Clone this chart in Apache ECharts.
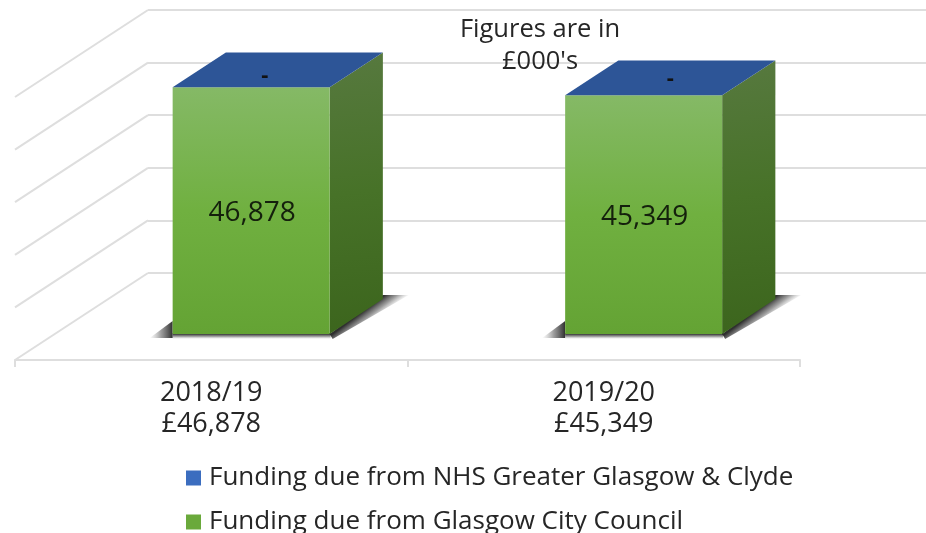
<!DOCTYPE html>
<html>
<head>
<meta charset="utf-8">
<style>html,body{margin:0;padding:0;background:#fff}#chart{width:926px;height:533px}</style>
<script src="https://cdn.jsdelivr.net/npm/echarts@6/dist/echarts.min.js"></script>
</head>
<body>
<div id="chart"></div>
<script>
// Funding due to the partnership, figures in £000's
const years = ['2018/19', '2019/20'];
const nhsFunding = [0, 0];
const councilFunding = [46878, 45349];
const wallTicks = [0, 10000, 20000, 30000, 40000, 50000];
const nhsName = 'Funding due from NHS Greater Glasgow & Clyde';
const councilName = 'Funding due from Glasgow City Council';
const note = "Figures are in\n£000's";

// Oblique projection: how far a point moves on screen from floor front to back wall
const DEPTH_X = 133, DEPTH_Y = -87;
const BAR_FRONT = 0.30, BAR_BACK = 0.70, BAR_WIDTH = 0.40;
const FONT = '"Open Sans", sans-serif';
const INK = '#262626';
const GRID_LINE = '#dedede';
const DASH_NUDGE = [[-13, 6], [0, 1]];

const fmt = v => v.toLocaleString('en-GB');
const total = i => nhsFunding[i] + councilFunding[i];
const axisLabels = years.map((y, i) => y + '\n£' + fmt(total(i)));

function project(p, depth) {
  return [p[0] + DEPTH_X * depth, p[1] + DEPTH_Y * depth];
}

function barBox(api, i, value) {
  const half = api.size([1, 0])[0] * BAR_WIDTH / 2;
  const base = api.coord([i, 0]);
  const top = api.coord([i, value]);
  return {
    fb: [project([base[0] - half, base[1]], BAR_FRONT), project([base[0] + half, base[1]], BAR_FRONT)],
    ft: [project([base[0] - half, top[1]], BAR_FRONT), project([base[0] + half, top[1]], BAR_FRONT)],
    bb: [project([base[0] - half, base[1]], BAR_BACK), project([base[0] + half, base[1]], BAR_BACK)],
    bt: [project([base[0] - half, top[1]], BAR_BACK), project([base[0] + half, top[1]], BAR_BACK)]
  };
}

const linear = (x, y, x2, y2, stops) => ({
  type: 'linear', x, y, x2, y2,
  colorStops: stops.map(([offset, color]) => ({ offset, color }))
});
const screenLinear = (x, y, x2, y2, stops) => Object.assign(linear(x, y, x2, y2, stops), { global: true });
const SHADE = [[0, 'rgba(30,30,30,0.92)'], [0.5, 'rgba(60,60,60,0.5)'], [1, 'rgba(120,120,120,0)']];

function renderWall(params, api) {
  const y = api.coord([0, api.value(0)])[1];
  const a = [params.coordSys.x, y];
  const b = project(a, 1);
  return {
    type: 'line', silent: true,
    shape: { x1: a[0], y1: a[1], x2: b[0], y2: b[1] },
    style: { stroke: GRID_LINE, lineWidth: 2 }
  };
}

function renderCouncil(params, api) {
  const i = api.value(0), v = api.value(1);
  const b = barBox(api, i, v);
  const [fl, fr] = b.fb;
  const br = b.bb[1];
  const cx = (fl[0] + fr[0]) / 2;
  const cy = (fl[1] + b.ft[0][1]) / 2;
  const mid = [(fr[0] + br[0]) / 2, (fr[1] + br[1]) / 2];
  return {
    type: 'group',
    children: [
      { // shadow falling to the left of the front edge
        type: 'polygon', silent: true,
        shape: { points: [[fl[0] - 23, fl[1] + 4], [fl[0], fl[1] - 13], [fl[0], fl[1] + 4]] },
        style: { fill: screenLinear(fl[0], 0, fl[0] - 23, 0, SHADE) }
      },
      { // shadow under the front edge
        type: 'polygon', silent: true,
        shape: { points: [[fl[0], fl[1] - 1], [fr[0] + 1, fr[1] - 1], [fr[0] + 1, fr[1] + 5], [fl[0], fl[1] + 5]] },
        style: { fill: screenLinear(0, fl[1], 0, fl[1] + 5, SHADE) }
      },
      { // shadow falling to the right of the side face
        type: 'polygon', silent: true,
        shape: { points: [[fr[0], fr[1]], [br[0], br[1] - 4], [br[0] + 26, br[1] - 4], [fr[0] + 3, fr[1] + 5]] },
        style: { fill: screenLinear(mid[0], mid[1], mid[0] + 9, mid[1] + 12, SHADE) }
      },
      { // side face
        type: 'polygon', silent: true,
        shape: { points: [b.ft[1], b.bt[1], b.bb[1], b.fb[1]] },
        style: { fill: linear(0, 0, 0.6, 1, [[0, '#57793f'], [0.5, '#477228'], [1, '#3c651d']]) }
      },
      { // front face
        type: 'polygon', silent: true,
        shape: { points: [b.ft[0], b.ft[1], b.fb[1], b.fb[0]] },
        style: { fill: linear(0, 0, 0, 1, [[0, '#85b966'], [0.5, '#70b040'], [1, '#64a334']]) }
      },
      {
        type: 'text', silent: true,
        style: {
          x: cx + 1, y: cy + 2, text: fmt(v), fill: '#14200c',
          font: '28px ' + FONT, align: 'center', verticalAlign: 'middle'
        }
      }
    ]
  };
}

// The NHS share is nil, so its segment shows only as the lid of the column
function renderNhs(params, api) {
  const i = api.value(0), v = api.value(1);
  const b = barBox(api, i, v + councilFunding[i]);
  const cx = (b.ft[0][0] + b.bt[1][0]) / 2;
  const cy = (b.ft[0][1] + b.bt[0][1]) / 2;
  return {
    type: 'group',
    children: [
      {
        type: 'polygon', silent: true,
        shape: { points: [b.ft[0], b.bt[0], b.bt[1], b.ft[1]] },
        style: { fill: '#2d5597' }
      },
      {
        type: 'text', silent: true,
        style: {
          x: cx + DASH_NUDGE[i][0], y: cy + DASH_NUDGE[i][1], text: v === 0 ? '-' : fmt(v), fill: '#111',
          font: 'bold 22px ' + FONT, align: 'center', verticalAlign: 'middle'
        }
      }
    ]
  };
}

const chart = echarts.init(document.getElementById('chart'), null, { renderer: 'canvas' });
chart.setOption({
  animation: false,
  backgroundColor: '#fff',
  title: {
    text: note, left: 535, top: 9, textAlign: 'center',
    textStyle: { fontFamily: FONT, fontSize: 25.5, fontWeight: 'normal', color: INK, lineHeight: 32 }
  },
  legend: {
    left: 181, top: 458, height: 100, orient: 'vertical', itemGap: 14, icon: 'rect',
    itemWidth: 15, itemHeight: 15, selectedMode: false,
    data: [
      { name: nhsName, itemStyle: { color: '#3b6dbf' } },
      { name: councilName, itemStyle: { color: '#6aa93b' } }
    ],
    textStyle: { fontFamily: FONT, fontSize: 26, color: INK, lineHeight: 30, padding: [0, 0, 0, 3] }
  },
  grid: [
    { left: 148, top: 10, width: 785, height: 263 }, // back wall
    { left: 15, top: 97, width: 785, height: 263 }   // front of the floor
  ],
  xAxis: [
    { type: 'category', gridIndex: 0, data: years, show: false },
    {
      type: 'category', gridIndex: 1, data: axisLabels,
      axisLine: { show: true, lineStyle: { color: GRID_LINE, width: 2 } },
      axisTick: { show: true, alignWithLabel: false, length: 7, lineStyle: { color: GRID_LINE, width: 2 } },
      axisLabel: { fontFamily: FONT, fontSize: 27, color: INK, lineHeight: 31, margin: 18 }
    }
  ],
  yAxis: [
    {
      type: 'value', gridIndex: 0, min: 0, max: 50000, interval: 10000,
      axisLine: { show: false }, axisTick: { show: false }, axisLabel: { show: false },
      splitLine: { lineStyle: { color: GRID_LINE, width: 2 } }
    },
    {
      type: 'value', gridIndex: 1, min: 0, max: 50000, interval: 10000,
      axisLine: { show: false }, axisTick: { show: false }, axisLabel: { show: false },
      splitLine: { show: false }
    }
  ],
  series: [
    {
      type: 'custom', name: 'wall', xAxisIndex: 1, yAxisIndex: 1, z: 1, silent: true,
      renderItem: renderWall, encode: { y: 0 }, data: wallTicks.map(v => [v])
    },
    {
      type: 'custom', name: councilName, xAxisIndex: 1, yAxisIndex: 1, z: 3, silent: true,
      itemStyle: { color: '#6aa93b' },
      renderItem: renderCouncil, encode: { x: 0, y: 1 },
      data: councilFunding.map((v, i) => [i, v])
    },
    {
      type: 'custom', name: nhsName, xAxisIndex: 1, yAxisIndex: 1, z: 4, silent: true,
      itemStyle: { color: '#3b6dbf' },
      renderItem: renderNhs, encode: { x: 0, y: 1 },
      data: nhsFunding.map((v, i) => [i, v])
    }
  ]
});
</script>
</body>
</html>
